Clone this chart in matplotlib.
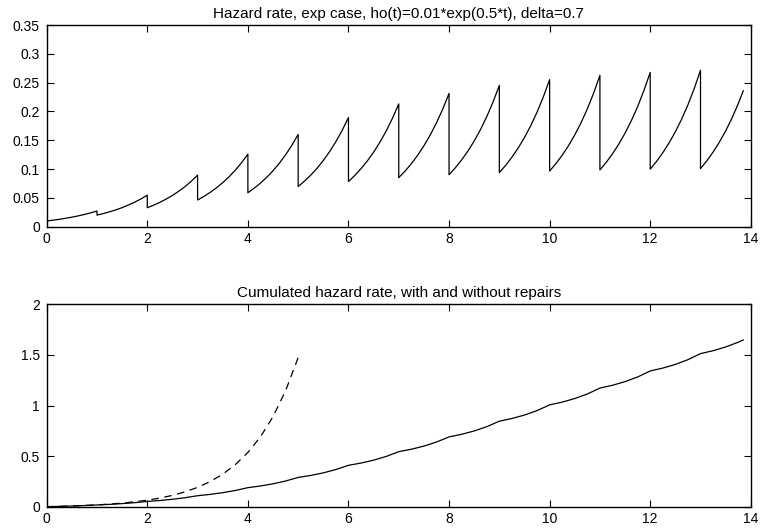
import matplotlib
matplotlib.use("Agg")
import matplotlib.pyplot as plt

plt.rcParams['font.family'] = ['Liberation Sans', 'DejaVu Sans']

# ---- Top panel: hazard rate with repairs (values read per interval) ----
seg_start = [0, 1, 2, 3, 4, 5, 6, 7, 8, 9, 10, 11, 12, 13]
seg_offsets = [0.0, 0.125, 0.25, 0.375, 0.5, 0.625, 0.75, 0.875, 1.0]
last_offsets = [0.0, 0.125, 0.25, 0.375, 0.5, 0.625, 0.75, 0.85]
seg_h = [
    [0.0100, 0.0113, 0.0128, 0.0146, 0.0165, 0.0187, 0.0212, 0.0240, 0.0272],
    [0.0201, 0.0228, 0.0258, 0.0292, 0.0331, 0.0376, 0.0426, 0.0482, 0.0547],
    [0.0329, 0.0373, 0.0422, 0.0479, 0.0542, 0.0615, 0.0696, 0.0789, 0.0894],
    [0.0463, 0.0525, 0.0595, 0.0674, 0.0764, 0.0865, 0.0981, 0.1111, 0.1259],
    [0.0589, 0.0667, 0.0756, 0.0857, 0.0971, 0.1100, 0.1247, 0.1413, 0.1601],
    [0.0697, 0.0790, 0.0895, 0.1014, 0.1149, 0.1302, 0.1476, 0.1672, 0.1895],
    [0.0784, 0.0888, 0.1007, 0.1141, 0.1293, 0.1465, 0.1660, 0.1881, 0.2131],
    [0.0851, 0.0964, 0.1093, 0.1238, 0.1403, 0.1590, 0.1802, 0.2041, 0.2313],
    [0.0902, 0.1022, 0.1158, 0.1312, 0.1487, 0.1685, 0.1910, 0.2164, 0.2452],
    [0.0939, 0.1064, 0.1206, 0.1366, 0.1548, 0.1754, 0.1988, 0.2253, 0.2552],
    [0.0966, 0.1095, 0.1240, 0.1406, 0.1593, 0.1805, 0.2045, 0.2317, 0.2626],
    [0.0985, 0.1116, 0.1265, 0.1433, 0.1624, 0.1840, 0.2085, 0.2363, 0.2678],
    [0.0999, 0.1132, 0.1283, 0.1454, 0.1647, 0.1866, 0.2115, 0.2397, 0.2715],
    [0.1008, 0.1142, 0.1294, 0.1467, 0.1662, 0.1883, 0.2134, 0.2358],
]

# ---- Bottom panel: cumulated hazard ----
cum_rep_t = [0, 0.25, 0.5, 0.75, 1, 1.25, 1.5, 1.75, 2, 2.25, 2.5, 2.75,
             3, 3.25, 3.5, 3.75, 4, 4.25, 4.5, 4.75, 5, 5.25, 5.5, 5.75,
             6, 6.25, 6.5, 6.75, 7, 7.25, 7.5, 7.75, 8, 8.25, 8.5, 8.75,
             9, 9.25, 9.5, 9.75, 10, 10.25, 10.5, 10.75, 11, 11.25, 11.5, 11.75,
             12, 12.25, 12.5, 12.75, 13, 13.25, 13.5, 13.75, 13.85]
cum_rep_h = [0.0, 0.0028, 0.0065, 0.0112,
             0.0172, 0.0229, 0.0302, 0.0397,
             0.0518, 0.0611, 0.0731, 0.0885,
             0.1083, 0.1214, 0.1383, 0.1600,
             0.1879, 0.2046, 0.2261, 0.2537,
             0.2891, 0.3089, 0.3343, 0.3670,
             0.4089, 0.4312, 0.4598, 0.4965,
             0.5436, 0.5678, 0.5988, 0.6387,
             0.6898, 0.7154, 0.7483, 0.7906,
             0.8448, 0.8715, 0.9057, 0.9497,
             1.0061, 1.0335, 1.0688, 1.1140,
             1.1721, 1.2001, 1.2360, 1.2821,
             1.3414, 1.3698, 1.4062, 1.4530,
             1.5130, 1.5416, 1.5784, 1.6256, 1.6480]

cum_norep_t = [0, 0.5, 1, 1.5, 2, 2.25, 2.5, 2.75, 3, 3.25, 3.5, 3.75, 4,
               4.25, 4.5, 4.75, 5]
cum_norep_h = [0.0, 0.0065, 0.0172, 0.0348, 0.0639, 0.0849, 0.1118, 0.1464,
               0.1909, 0.2479, 0.3212, 0.4152, 0.5360, 0.6900, 0.8902,
               1.1456, 1.4741]

top_yticks = [0, 0.05, 0.1, 0.15, 0.2, 0.25, 0.3, 0.35]
top_yticklabels = ['0', '0.05', '0.1', '0.15', '0.2', '0.25', '0.3', '0.35']
bot_yticks = [0, 0.5, 1, 1.5, 2]
bot_yticklabels = ['0', '0.5', '1', '1.5', '2']
xticks = [0, 2, 4, 6, 8, 10, 12, 14]
xticklabels = ['0', '2', '4', '6', '8', '10', '12', '14']

title_top = 'Hazard rate, exp case, ho(t)=0.01*exp(0.5*t), delta=0.7'
title_bot = 'Cumulated hazard rate, with and without repairs'

fig = plt.figure(figsize=(7.62, 5.30), dpi=100)
ax1 = fig.add_axes([0.0613, 0.5723, 0.9240, 0.3805])
ax2 = fig.add_axes([0.0613, 0.0440, 0.9240, 0.3818])

# top: join segments with vertical drops at each repair
xs, ys = [], []
for i, (t0, h) in enumerate(zip(seg_start, seg_h)):
    offs = last_offsets if i == len(seg_start) - 1 else seg_offsets
    xs.extend([t0 + o for o in offs])
    ys.extend(h)
ax1.plot(xs, ys, color='black', lw=0.9)

ax2.plot(cum_norep_t, cum_norep_h, color='black', lw=0.9, ls=(0, (6, 4.5)))
ax2.plot(cum_rep_t, cum_rep_h, color='black', lw=0.9)

for ax, yt, ytl, yl, title in [
        (ax1, top_yticks, top_yticklabels, (0, 0.35), title_top),
        (ax2, bot_yticks, bot_yticklabels, (0, 2), title_bot)]:
    ax.set_xlim(0, 14)
    ax.set_ylim(*yl)
    ax.set_xticks(xticks)
    ax.set_xticklabels(xticklabels)
    ax.set_yticks(yt)
    ax.set_yticklabels(ytl)
    ax.tick_params(direction='in', top=True, right=True, length=5,
                   width=0.8, labelsize=10)
    ax.tick_params(axis='x', pad=3.5)
    ax.tick_params(axis='y', pad=5)
    for s in ax.spines.values():
        s.set_linewidth(1.0)
    ax.set_title(title, fontsize=11, pad=5)

fig.savefig('out.png', dpi=100)
